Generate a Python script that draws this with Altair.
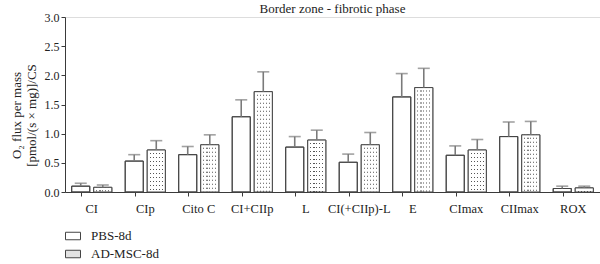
import altair as alt
import pandas as pd

categories = ["CI", "CIp", "Cito C", "CI+CIIp", "L", "CI(+CIIp)-L", "E", "CImax", "CIImax", "ROX"]
groups = ["PBS-8d", "AD-MSC-8d"]
pbs_mean = [0.10, 0.53, 0.64, 1.29, 0.77, 0.51, 1.63, 0.63, 0.95, 0.06]
pbs_sem = [0.05, 0.11, 0.14, 0.29, 0.18, 0.14, 0.40, 0.16, 0.25, 0.04]
ad_mean = [0.08, 0.72, 0.81, 1.72, 0.89, 0.81, 1.79, 0.72, 0.98, 0.07]
ad_sem = [0.04, 0.16, 0.17, 0.34, 0.17, 0.21, 0.33, 0.18, 0.23, 0.03]
y_ticks = [0, 0.5, 1, 1.5, 2, 2.5, 3]

rows = []
for i, c in enumerate(categories):
    rows.append({"cat": c, "group": groups[0], "mean": pbs_mean[i], "sem": pbs_sem[i]})
    rows.append({"cat": c, "group": groups[1], "mean": ad_mean[i], "sem": ad_sem[i]})
df = pd.DataFrame(rows)

FONT = "Liberation Serif"
AXC = "#3a3a3a"

x_axis = alt.Axis(
    title=None, labelAngle=0, bandPosition=0.25, labelFont=FONT, labelFontSize=12.5,
    labelColor="#222", labelPadding=6, tickSize=4, domainColor=AXC, tickColor=AXC,
)
x_scale = alt.Scale(paddingInner=0.25, paddingOuter=0.125)
y_scale = alt.Scale(domain=[0, 3], nice=False)
y_axis = alt.Axis(
    title=["O₂ flux per mass", "[pmol/(s × mg)]/CS"], values=y_ticks,
    format=".1f", grid=False, labelFont=FONT, labelFontSize=12, labelColor="#222",
    titleFont=FONT, titleFontSize=13, titleFontWeight="normal", titleColor="#222",
    titlePadding=6, titleY=98, tickSize=4, domainColor=AXC, tickColor=AXC, labelPadding=2,
    labelOverlap=False,
)


def X():
    return alt.X("cat:N", sort=categories, scale=x_scale, axis=x_axis)


def XO():
    return alt.XOffset("group:N", sort=groups, scale=alt.Scale(paddingInner=0.18, paddingOuter=0))


def Y(field="mean"):
    return alt.Y(f"{field}:Q", scale=y_scale, axis=y_axis)


base = alt.Chart(df)

bars = base.mark_bar(stroke="#444", strokeWidth=1).encode(
    x=X(), xOffset=XO(), y=Y(),
    fill=alt.Fill(
        "group:N", sort=groups,
        scale=alt.Scale(domain=groups, range=["#ffffff", "#e2e2e2"]),
        legend=alt.Legend(
            title=None, orient="none", legendX=0, legendY=211, direction="vertical",
            symbolType="M-1,-0.5H1V0.5H-1Z", symbolSize=225, symbolStrokeColor="#444",
            symbolStrokeWidth=1, labelFont=FONT, labelFontSize=13, labelColor="#222",
            rowPadding=3, labelOffset=10,
        ),
    ),
)

stops = [alt.GradientStop(color="#ffffff", offset=0)]
for c in [0.17, 0.34, 0.5, 0.66, 0.83]:
    stops += [
        alt.GradientStop(color="#ffffff", offset=c - 0.035),
        alt.GradientStop(color="#555555", offset=c - 0.035),
        alt.GradientStop(color="#555555", offset=c + 0.035),
        alt.GradientStop(color="#ffffff", offset=c + 0.035),
    ]
stops.append(alt.GradientStop(color="#ffffff", offset=1))
stripe_fill = alt.LinearGradient(gradient="linear", x1=0, x2=1, y1=0, y2=0, stops=stops)

ad = base.transform_filter(alt.datum.group == groups[1])

ad_stripes = ad.mark_bar(fill=stripe_fill, strokeWidth=0).encode(x=X(), xOffset=XO(), y=Y())
ad_mask = ad.mark_rule(stroke="#ffffff", strokeWidth=16, strokeDash=[3, 1], strokeCap="butt").encode(
    x=X(), xOffset=XO(), y=Y(), y2=alt.datum(0),
)
outline = base.mark_bar(fillOpacity=0, stroke="#444", strokeWidth=1).encode(x=X(), xOffset=XO(), y=Y())

err_base = base.transform_calculate(top="datum.mean + datum.sem")
err_line = err_base.mark_rule(color="#7a7a7a", strokeWidth=1.6).encode(
    x=X(), xOffset=XO(), y=Y(), y2="top:Q",
)
err_cap = err_base.mark_tick(color="#7a7a7a", thickness=1.6, size=12, orient="horizontal").encode(
    x=X(), xOffset=XO(), y=Y("top"),
)

chart = alt.layer(bars, ad_stripes, ad_mask, outline, err_line, err_cap).properties(
    width=535, height=175,
    title=alt.TitleParams("Border zone - fibrotic phase", font=FONT, fontSize=13,
                          fontWeight="normal", color="#222", anchor="middle", offset=-5),
    autosize=alt.AutoSizeParams(type="none"),
    padding={"left": 65, "top": 17, "right": 0, "bottom": 72},
).configure_view(stroke=None).configure(background="white")

chart.save("out.html", embed_options={"renderer": "svg", "actions": False})
